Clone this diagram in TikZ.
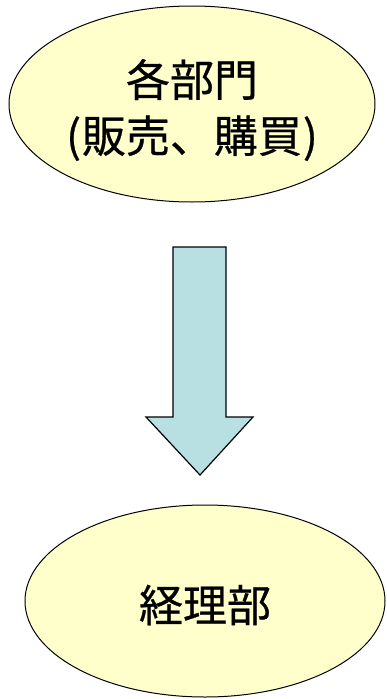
\documentclass[tikz,border=0pt]{standalone}
\usepackage{fontspec}
\newfontfamily\cjk{Noto Sans CJK JP}[FakeBold=0.6]
\usetikzlibrary{shapes.geometric}
\definecolor{ellfill}{HTML}{FFFFCC}
\definecolor{arrfill}{HTML}{B8E0E2}
\tikzset{
  ell/.style={draw=black, fill=ellfill, line width=1pt},
  lbl/.style={font=\cjk\fontsize{44}{60}\selectfont, align=center, inner sep=0pt},
  bigarrow/.style={draw=black, fill=arrfill, line width=1.2pt, line join=miter}
}
\begin{document}
\begin{tikzpicture}[x=1pt,y=-1pt]
\useasboundingbox (0,0) rectangle (386,699);
\draw[ell] (192,104) ellipse [x radius=183, y radius=98];
\node[lbl] (top) at (192,110) {各部門\\[-4pt]({\kern1pt}販売、購買{\kern1pt})};
\draw[ell] (205,601) ellipse [x radius=180, y radius=96];
\node[lbl] (bot) at (205,605) {経理部};
\draw[bigarrow] (173,247) -- (226,247) -- (226,417) -- (253,417) -- (200,475) -- (146,417) -- (173,417) -- cycle;
\end{tikzpicture}
\end{document}
